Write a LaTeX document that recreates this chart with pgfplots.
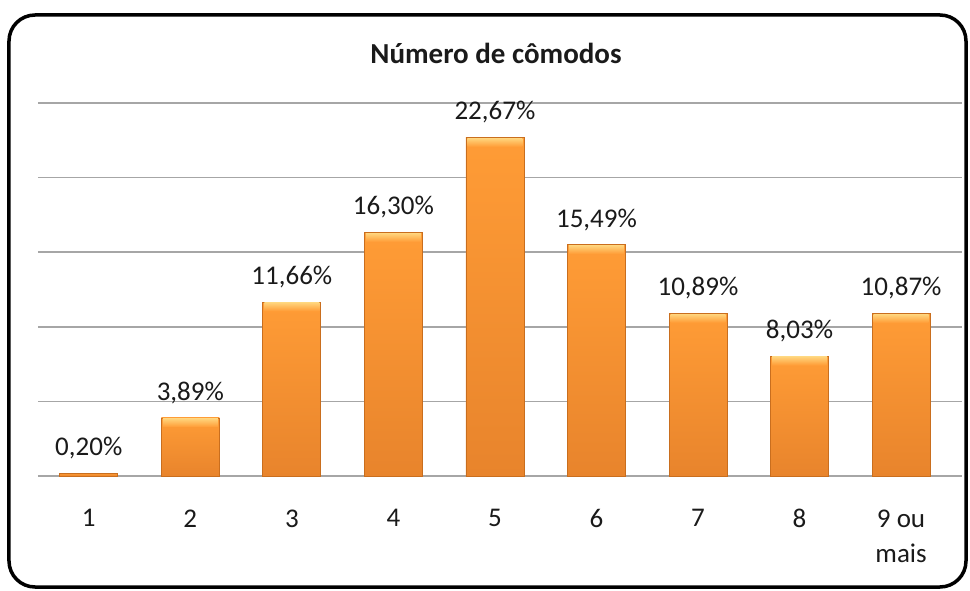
\documentclass[border=0pt]{standalone}
\usepackage{pgfplots}
\pgfplotsset{compat=1.18}
\usepackage{fontspec}
\setmainfont{Carlito}
\definecolor{bartop}{HTML}{FF9C36}
\definecolor{barbot}{HTML}{E8842C}
\definecolor{baredge}{HTML}{C96E1E}
\definecolor{bevelc}{HTML}{FFD47C}
\definecolor{gridc}{HTML}{A6A6A6}
\definecolor{txt}{HTML}{1A1A1A}
\pgfdeclareverticalshading{barv}{100bp}{color(0bp)=(barbot); color(25bp)=(barbot); color(75bp)=(bartop); color(100bp)=(bartop)}
\pgfdeclareverticalshading{bevelv}{100bp}{color(0bp)=(bartop); color(25bp)=(bartop); color(75bp)=(bevelc); color(100bp)=(bevelc)}
\pgfdeclareplotmark{bevel}{\pgfpathrectangle{\pgfpoint{-27.5pt}{-9pt}}{\pgfpoint{55pt}{8.5pt}}\pgfshadepath{bevelv}{0}\pgfusepath{discard}}
\pgfplotsset{
  onebar/.style={ybar, bar width=58pt, bar shift=0pt, draw=baredge, line width=0.8pt, shading=barv,
    mark=bevel,
    point meta=explicit symbolic, nodes near coords,
    every node near coord/.append style={font=\fontsize{27}{32}\selectfont, text=txt, anchor=south, inner sep=0pt, yshift=14pt}},
}
\begin{document}
\begin{tikzpicture}
\begin{axis}[
  scale only axis, width=924pt, height=373pt,
  xmin=0.5, xmax=9.6, ymin=0, ymax=25,
  ytick={0,5,...,25}, yticklabels={},
  ymajorgrids, grid style={gridc, line width=1.5pt},
  axis line style={draw=none}, major tick style={draw=none},
  xtick={1,...,9},
  xticklabels={1,2,3,4,5,6,7,8,{9 ou\\mais}},
  xticklabel style={align=center, font=\fontsize{27}{35}\selectfont, text=txt, anchor=north, yshift=-30pt},
  clip=false,
]
\addplot[onebar, mark=none] coordinates {(1,0.20) [0,20\%]};
\addplot[onebar] coordinates {(2,3.89) [3,89\%]};
\addplot[onebar] coordinates {(3,11.66) [11,66\%]};
\addplot[onebar] coordinates {(4,16.30) [16,30\%]};
\addplot[onebar] coordinates {(5,22.67) [22,67\%]};
\addplot[onebar] coordinates {(6,15.49) [15,49\%]};
\addplot[onebar] coordinates {(7,10.89) [10,89\%]};
\addplot[onebar] coordinates {(8,8.03) [8,03\%]};
\addplot[onebar] coordinates {(9,10.87) [10,87\%]};
\coordinate (O) at (rel axis cs:0,0);
\end{axis}
\pgfresetboundingbox
\begin{scope}[shift={(O)}, x=1pt, y=1pt]
\useasboundingbox (-38,-114) rectangle (932,476);
\draw[line width=3.5pt, rounded corners=26pt] (-29,-111) rectangle (928,461);
\node[font=\fontsize{29}{33}\selectfont\bfseries, text=txt] at (458,423) {Número de cômodos};
\end{scope}
\end{tikzpicture}
\end{document}
